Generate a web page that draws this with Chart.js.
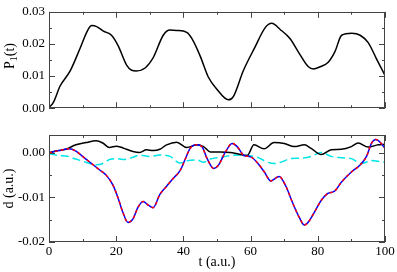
<!DOCTYPE html>
<html>
<head>
<meta charset="utf-8">
<script src="https://cdn.jsdelivr.net/npm/chart.js@4"></script>
<style>
  html, body { margin: 0; padding: 0; background: #fff; }
  #wrap { position: relative; width: 397px; height: 272px; }
  canvas { position: absolute; left: 0; }
  #top { top: 0; }
  #bottom { top: 120px; }
</style>
</head>
<body>
<div id="wrap">
  <canvas id="top" width="397" height="120"></canvas>
  <canvas id="bottom" width="397" height="152"></canvas>
</div>
<script>
/* panel 1: P1(t) */
const tP = [0, 1.3, 3.3, 6.3, 9.2, 11.4, 12.7, 14.2, 16.2, 18.6, 20.6, 23.1, 24.6, 26, 28.6, 31, 34, 36, 38, 41, 42.5, 45,
  47.4, 49.9, 53.4, 54.9, 57.8, 61.3, 64.3, 66.3, 68.8, 71.7, 74.7, 77.2, 78.7, 80.7, 83.1, 85.1, 87.1, 90.1, 92.6, 95, 97.5, 100];
const pVals = [0.0002, 0.0018, 0.0069, 0.0116, 0.0185, 0.0240, 0.0257, 0.0254, 0.0240, 0.0227, 0.0194, 0.0134, 0.0118, 0.0116,
  0.0125, 0.0157, 0.0227, 0.0243, 0.0242, 0.0236, 0.0217, 0.0162, 0.0097, 0.0060, 0.0026, 0.0037, 0.0116, 0.0190, 0.0250,
  0.0264, 0.0245, 0.0217, 0.0167, 0.0129, 0.0122, 0.0129, 0.0143, 0.0176, 0.0227, 0.0233, 0.0227, 0.0204, 0.0153, 0.0102];

/* panel 2: d(t) */
const tBlack = [0, 2, 5, 8, 11, 14, 16, 18, 20, 22, 25, 27, 29, 31, 33, 35, 38, 41, 44, 46, 48, 51, 54, 56, 59, 61, 64, 67,
  70, 73, 76, 78, 81, 84, 87, 90, 92, 95, 98, 100];
const dBlack = [0.0000, 0.0004, 0.0008, 0.0018, 0.0023, 0.0027, 0.0022, 0.0012, 0.0015, 0.0011, 0.0003, 0.0001, 0.0007, 0.0005,
  0.0008, 0.0018, 0.0024, 0.0012, 0.0018, 0.0014, 0.0002, 0.0002, 0.0001, -0.0002, -0.0006, 0.0018, 0.0009, 0.0023,
  0.0021, 0.0014, 0.0018, 0.0010, -0.0004, 0.0007, 0.0008, 0.0014, 0.0022, 0.0013, 0.0018, 0.0019];

const tCyan = [0, 3, 5, 8, 11, 14, 16, 18, 20, 22, 25, 27, 30, 33, 36, 39, 41, 44, 46, 48, 51, 54, 57, 59, 62, 65, 67, 69,
  72, 75, 78, 81, 84, 87, 90, 93, 96, 98, 100];
const dCyan = [-0.0002, -0.0006, -0.0007, -0.0014, -0.0021, -0.0027, -0.0024, -0.0015, -0.0013, -0.0015, -0.0010, -0.0005,
  -0.0008, -0.0005, -0.0008, -0.0023, -0.0018, -0.0016, -0.0021, -0.0014, -0.0010, -0.0006, -0.0005, -0.0006, -0.0010,
  -0.0021, -0.0024, -0.0021, -0.0013, -0.0012, -0.0008, 0.0001, -0.0008, -0.0011, -0.0013, -0.0024, -0.0017, -0.0019, -0.0021];

const tRed = [0, 3, 6, 8, 10, 12, 15, 17, 19, 20.5, 22, 23.5, 25, 26.5, 28, 29.5, 31, 33, 35, 37, 39, 40.5, 42, 44, 45.5,
  47, 49, 50.5, 52.5, 54.5, 56, 58, 60, 62, 64, 66, 68.5, 70.5, 72.5, 74.5, 76, 77.5, 79, 81, 83, 85, 87, 90, 92.5, 94.5,
  96, 97.3, 99, 100];
const dRed = [0.0000, 0.0005, 0.0009, 0.0004, -0.0008, -0.0020, -0.0038, -0.0050, -0.0072, -0.0100, -0.0134, -0.0156,
  -0.0148, -0.0122, -0.0109, -0.0117, -0.0123, -0.0093, -0.0075, -0.0057, -0.0040, -0.0015, 0.0010, 0.0018, 0.0014,
  -0.0012, -0.0035, -0.0027, 0.0002, 0.0021, 0.0014, -0.0006, -0.0009, -0.0022, -0.0042, -0.0063, -0.0053, -0.0075,
  -0.0112, -0.0145, -0.0162, -0.0152, -0.0133, -0.0107, -0.0091, -0.0086, -0.0066, -0.0043, -0.0028, -0.0008,
  0.0022, 0.0030, 0.0020, 0.0010];

const xMajor = [0, 20, 40, 60, 80, 100];
const xMinor = [10, 30, 50, 70, 90];
const pMinor = [0.005, 0.015, 0.025];
const dMinor = [-0.015, -0.005];

Chart.defaults.color = '#000';
Chart.defaults.font.family = "'Liberation Serif', 'Times New Roman', serif";
Chart.defaults.font.size = 13;

const pts = (xs, ys) => xs.map((x, i) => ({ x: x, y: ys[i] }));

// frame round the plot + inward ticks on all four sides
const frameTicks = {
  id: 'frameTicks',
  afterDatasetsDraw(chart, args, opts) {
    const { ctx, chartArea: a, scales: { x, y } } = chart;
    ctx.save();
    ctx.strokeStyle = '#444';
    ctx.lineWidth = 1;
    ctx.strokeRect(Math.round(a.left) + 0.5, Math.round(a.top) + 0.5,
      Math.round(a.width) - 1, Math.round(a.height) - 1);
    ctx.beginPath();
    const xt = (v, len) => {
      const px = Math.round(x.getPixelForValue(v)) + 0.5;
      ctx.moveTo(px, a.bottom); ctx.lineTo(px, a.bottom - len);
      ctx.moveTo(px, a.top); ctx.lineTo(px, a.top + len);
    };
    const yt = (v, len) => {
      const py = Math.round(y.getPixelForValue(v)) + 0.5;
      ctx.moveTo(a.left, py); ctx.lineTo(a.left + len, py);
      ctx.moveTo(a.right, py); ctx.lineTo(a.right - len, py);
    };
    opts.xMajor.forEach(v => xt(v, 6));
    opts.xMinor.forEach(v => xt(v, 3));
    y.ticks.forEach(t => yt(t.value, 6));
    opts.yMinor.forEach(v => yt(v, 3));
    ctx.stroke();
    ctx.restore();
  }
};

// y title with a subscript for the upper panel
const pTitle = {
  id: 'pTitle',
  afterDraw(chart) {
    const ctx = chart.ctx;
    const big = "14px 'Liberation Serif', serif";
    const small = "10px 'Liberation Serif', serif";
    ctx.save();
    ctx.translate(10, 56);
    ctx.rotate(-Math.PI / 2);
    ctx.fillStyle = '#000';
    ctx.textBaseline = 'middle';
    ctx.font = big;
    const wP = ctx.measureText('P').width;
    const wT = ctx.measureText('(t)').width;
    ctx.font = small;
    const w1 = ctx.measureText('1').width;
    let x0 = -(wP + w1 + wT) / 2;
    ctx.font = big;
    ctx.fillText('P', x0, 0);
    ctx.font = small;
    ctx.fillText('1', x0 + wP, 4);
    ctx.font = big;
    ctx.fillText('(t)', x0 + wP + w1, 0);
    ctx.restore();
  }
};

const yWidth = s => { s.width = 49; };

new Chart(document.getElementById('top'), {
  type: 'line',
  data: {
    datasets: [{
      data: pts(tP, pVals),
      borderColor: '#000',
      borderWidth: 1.5,
      pointRadius: 0,
      cubicInterpolationMode: 'monotone'
    }]
  },
  options: {
    responsive: false,
    animation: false,
    layout: { padding: { left: 0, right: 12, top: 5, bottom: 7 } },
    plugins: {
      legend: { display: false },
      tooltip: { enabled: false },
      frameTicks: { xMajor: xMajor, xMinor: xMinor, yMinor: pMinor }
    },
    scales: {
      x: { type: 'linear', min: 0, max: 100, display: false },
      y: {
        min: 0, max: 0.03,
        afterFit: yWidth,
        grid: { display: false, drawTicks: false },
        border: { display: false },
        ticks: { stepSize: 0.01, padding: 4, callback: v => v.toFixed(2) }
      }
    }
  },
  plugins: [frameTicks, pTitle]
});

// first dataset is drawn on top, so red dashes go first, blue under them
new Chart(document.getElementById('bottom'), {
  type: 'line',
  data: {
    datasets: [
      { data: pts(tRed, dRed), borderColor: '#ff0000', borderWidth: 1.5, borderDash: [3, 3] },
      { data: pts(tRed, dRed), borderColor: '#0000ff', borderWidth: 1.5 },
      { data: pts(tBlack, dBlack), borderColor: '#000', borderWidth: 1.5 },
      { data: pts(tCyan, dCyan), borderColor: '#00e5e5', borderWidth: 1.5, borderDash: [8, 4] }
    ].map(d => Object.assign(d, { pointRadius: 0, cubicInterpolationMode: 'monotone' }))
  },
  options: {
    responsive: false,
    animation: false,
    layout: { padding: { left: 0, right: 12, top: 15, bottom: 0 } },
    plugins: {
      legend: { display: false },
      tooltip: { enabled: false },
      frameTicks: { xMajor: xMajor, xMinor: xMinor, yMinor: dMinor }
    },
    scales: {
      x: {
        type: 'linear', min: 0, max: 100,
        afterFit: s => { s.height = 30; },
        grid: { display: false, drawTicks: false },
        border: { display: false },
        ticks: { stepSize: 20, padding: 2 },
        title: { display: true, text: 't (a.u.)', font: { size: 14 }, padding: { top: 0, bottom: 1 } }
      },
      y: {
        min: -0.02, max: 0.004,
        afterFit: yWidth,
        grid: { display: false, drawTicks: false },
        border: { display: false },
        ticks: { stepSize: 0.01, padding: 4, includeBounds: false, callback: v => v.toFixed(2) },
        title: { display: true, text: 'd (a.u.)', font: { size: 14 }, padding: { top: 1, bottom: 0 } }
      }
    }
  },
  plugins: [frameTicks]
});
</script>
</body>
</html>
